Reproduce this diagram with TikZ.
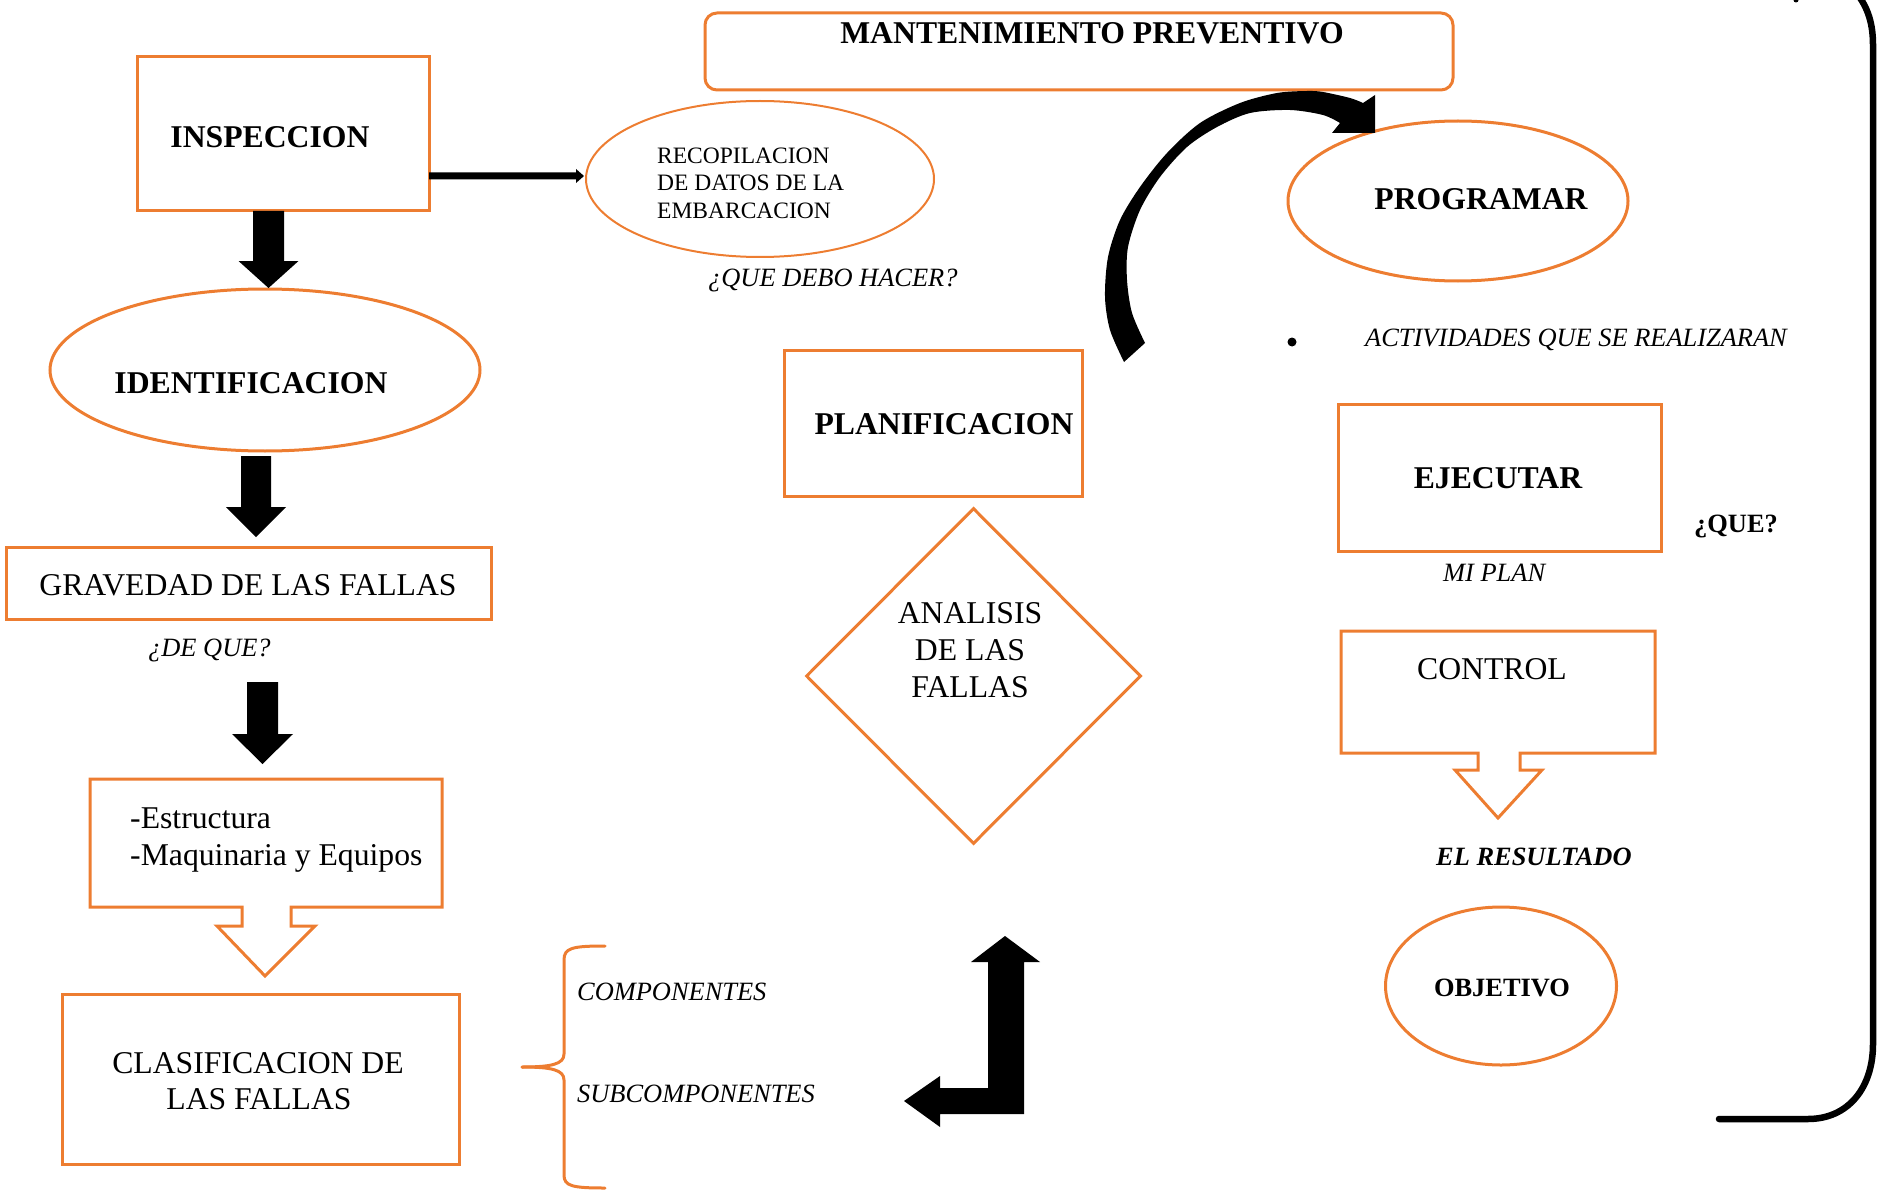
\documentclass[tikz,border=0pt]{standalone}
\usepackage{fontspec}
\setmainfont{Liberation Serif}
\usetikzlibrary{shapes.geometric}
\definecolor{orng}{HTML}{ED7D31}
\newcommand\dblk[6]{%
  \fill (#1-#4,#2) -- (#1+#4,#2) -- (#1+#4,#3-#6) -- (#1+#5,#3-#6) -- (#1,#3)
        -- (#1-#5,#3-#6) -- (#1-#4,#3-#6) -- cycle;}
\begin{document}
\begin{tikzpicture}[x=1pt,y=-1pt,
  obox/.style={draw=orng, line width=3pt, rectangle, inner sep=0pt},
  oell/.style={draw=orng, line width=3pt, ellipse, inner sep=0pt},
  tb/.style={inner sep=0pt, anchor=base},
  tl/.style={inner sep=0pt, anchor=base west},
  hb/.style={font=\fontsize{31.7}{37}\selectfont\bfseries},
  hr/.style={font=\fontsize{31.7}{37}\selectfont},
  itx/.style={font=\fontsize{26.4}{31}\selectfont\itshape},
  sbx/.style={font=\fontsize{26.4}{31}\selectfont\bfseries},
  sbi/.style={font=\fontsize{26.4}{31}\selectfont\bfseries\itshape},
  smx/.style={font=\fontsize{23.5}{27.5}\selectfont}]
\useasboundingbox (0,0) rectangle (1877,1193);

% ---------- shapes ----------
\node[obox, rounded corners=12pt, minimum width=748pt, minimum height=77pt] (mant) at (1079,51.5) {};
\node[obox, minimum width=292pt, minimum height=154pt] (insp) at (283,134) {};
\node[oell, line width=2pt, minimum width=348pt, minimum height=156pt] (recop) at (760,179) {};
\node[oell, minimum width=430pt, minimum height=162pt] (ident) at (265,370) {};
\node[obox, minimum width=485pt, minimum height=72pt] (grav) at (248.5,583) {};
\node[obox, minimum width=397pt, minimum height=170pt] (clas) at (260.5,1079) {};
\node[obox, minimum width=298pt, minimum height=146pt] (plan) at (933,423) {};
\node[draw=orng, line width=3pt, diamond, inner sep=0pt, minimum width=335pt, minimum height=336pt] (anal) at (973.5,676) {};
\node[oell, minimum width=340pt, minimum height=160pt] (prog) at (1458,201) {};
\node[obox, minimum width=323pt, minimum height=147pt] (ejec) at (1499.5,477.5) {};
\node[oell, minimum width=231pt, minimum height=158pt] (obj) at (1501,986) {};
\node[circle, fill=black, inner sep=0pt, minimum size=9pt] (dot) at (1292,342) {};

% callout boxes
\draw[orng, line width=3pt, line join=miter]
  (90,779) -- (442,779) -- (442,907) -- (291,907) -- (291,926) -- (315,926)
  -- (265,976) -- (217,926) -- (242,926) -- (242,907) -- (90,907) -- cycle;
\draw[orng, line width=3pt, line join=miter]
  (1341,631) -- (1655,631) -- (1655,753) -- (1520,753) -- (1520,770) -- (1542,770)
  -- (1498,818) -- (1455,770) -- (1478,770) -- (1478,753) -- (1341,753) -- cycle;

% brace
\draw[orng, line width=3pt, line cap=round]
  (605,946) .. controls (572,946) and (564,948) .. (564,960) -- (564,1054)
  .. controls (564,1064) and (552,1067) .. (522,1067);
\draw[orng, line width=3pt, line cap=round]
  (522,1067) .. controls (552,1067) and (564,1070) .. (564,1080) -- (564,1175)
  .. controls (564,1186) and (572,1188) .. (605,1188);

% right border
\draw[line width=6.5pt, line cap=round]
  (1854,-10) .. controls (1866,4) and (1873,20) .. (1873,45) -- (1873,1044)
  .. controls (1873,1088) and (1848,1119) .. (1808,1119) -- (1719,1119);
\fill (1796,0) circle (2.5);

% ---------- arrows ----------
\fill (429,172.5) -- (576,172.5) -- (576,169) -- (584,176) -- (576,183) -- (576,179.5) -- (429,179.5) -- cycle;
\dblk{268.5}{211}{288}{15.5}{30}{27}
\dblk{256}{456}{537}{15}{30}{30}
\dblk{262.5}{682}{764}{15.5}{30.5}{30}

\fill plot[smooth] coordinates {(1124,362) (1110,330) (1105,297) (1108,257) (1120,220) (1140,187) (1167,153) (1200,123) (1240,103) (1277,93) (1307,91) (1323,92) (1350,98) (1363,103)}
  -- (1375,95) -- (1375,133) -- (1332,133)
  -- plot[smooth] coordinates {(1340,123) (1323,115) (1290,110) (1250,113) (1217,127) (1187,147) (1160,177) (1140,210) (1128,247) (1127,280) (1132,313) (1145,343)}
  -- cycle;

\fill (1005,936) -- (1040,962) -- (1024,962) -- (1024,1114) -- (940,1114) -- (940,1127)
  -- (904,1101) -- (940,1076) -- (940,1088) -- (988,1088) -- (988,962) -- (971,962) -- cycle;

% ---------- texts ----------
\node[tb, hb] (mantT) at (1092,44) {MANTENIMIENTO PREVENTIVO};
\node[tb, hb] (inspT) at (270,148) {INSPECCION};
\node[tl, smx] (recT1) at (657,164) {RECOPILACION};
\node[tl, smx] (recT2) at (657,191) {DE DATOS DE LA};
\node[tl, smx] (recT3) at (657,219) {EMBARCACION};
\node[tl, itx] (qdh) at (708,287) {¿QUE DEBO HACER?};
\node[tb, hb] (identT) at (251,393) {IDENTIFICACION};
\node[tb, hr] (gravT) at (248,595) {GRAVEDAD DE LAS FALLAS};
\node[tl, itx] (dq) at (148,656) {¿DE QUE?};
\node[tl, hr] (est1) at (130,828) {-Estructura};
\node[tl, hr] (est2) at (130,865) {-Maquinaria y Equipos};
\node[tb, hr] (clasT1) at (258,1073) {CLASIFICACION DE};
\node[tb, hr] (clasT2) at (259,1109) {LAS FALLAS};
\node[tl, itx] (comp) at (577,1000) {COMPONENTES};
\node[tl, itx] (subc) at (577,1102) {SUBCOMPONENTES};
\node[tb, hb] (planT) at (944,434) {PLANIFICACION};
\node[tb, hr] (anT1) at (970,623) {ANALISIS};
\node[tb, hr] (anT2) at (970,660) {DE LAS};
\node[tb, hr] (anT3) at (970,697) {FALLAS};
\node[tb, hb] (progT) at (1481,210) {PROGRAMAR};
\node[tl, itx] (activ) at (1365,346) {ACTIVIDADES QUE SE REALIZARAN};
\node[tb, hb] (ejecT) at (1498,488) {EJECUTAR};
\node[tl, sbx] (que) at (1694,532) {¿QUE?};
\node[tl, itx] (miplan) at (1443,581) {MI PLAN};
\node[tb, hr] (contT) at (1492,679) {CONTROL};
\node[tl, sbi] (result) at (1436,865) {EL RESULTADO};
\node[tb, sbx] (objT) at (1502,996) {OBJETIVO};
\end{tikzpicture}
\end{document}
